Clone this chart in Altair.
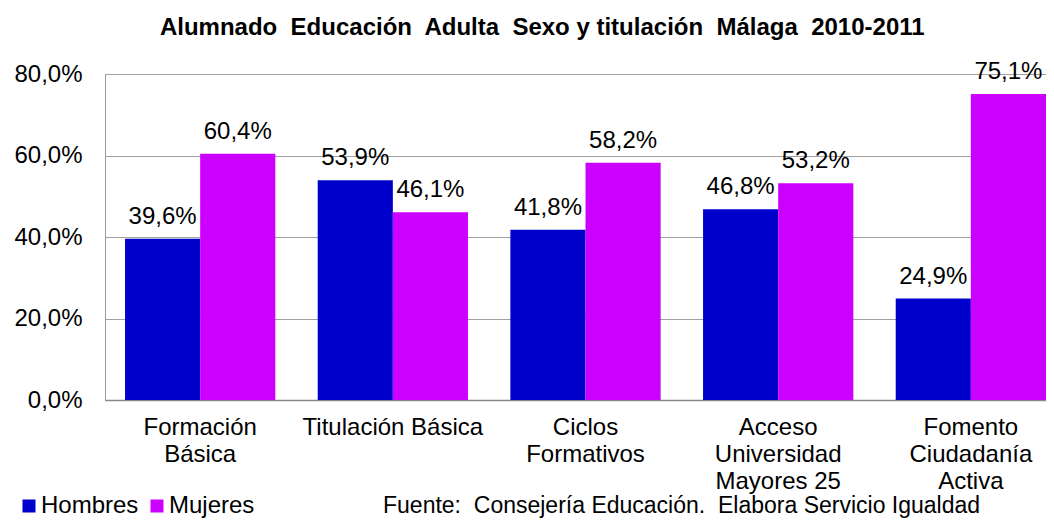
import altair as alt
import pandas as pd

categories = ["Formación|Básica", "Titulación Básica", "Ciclos|Formativos",
              "Acceso|Universidad|Mayores 25", "Fomento|Ciudadanía|Activa"]
hombres = [39.6, 53.9, 41.8, 46.8, 24.9]
mujeres = [60.4, 46.1, 58.2, 53.2, 75.1]
series = ["Hombres", "Mujeres"]
colors = ["#0000CC", "#CC00FF"]
title_text = "Alumnado\u00a0 Educación\u00a0 Adulta\u00a0 Sexo y titulación\u00a0 Málaga\u00a0 2010-2011"
source_text = "Fuente:\u00a0 Consejería Educación.\u00a0 Elabora Servicio Igualdad"

rows = []
for c, h, m in zip(categories, hombres, mujeres):
    rows.append({"cat": c, "sexo": "Hombres", "val": h})
    rows.append({"cat": c, "sexo": "Mujeres", "val": m})
df = pd.DataFrame(rows)
df["lbl"] = df["val"].map(lambda v: f"{v:.1f}".replace(".", ",") + "%")

FONT = "Liberation Sans"
FS = 24

x = alt.X("cat:N", sort=categories, title=None,
          scale=alt.Scale(paddingInner=0.22, paddingOuter=0.052, align=1),
          axis=alt.Axis(labelExpr="split(datum.label, '|')", labelAngle=0,
                        labelFontSize=FS, labelFont=FONT, labelColor="black",
                        labelLineHeight=27, labelPadding=15, ticks=False,
                        labelLimit=400,
                        domainColor="#888888", domainWidth=1.5, grid=False,
                        labelBaseline="top"))
y = alt.Y("val:Q", title=None,
          scale=alt.Scale(domain=[0, 80]),
          axis=alt.Axis(values=[0, 20, 40, 60, 80],
                        labelExpr="replace(format(datum.value, '.1f'), '.', ',') + '%'",
                        labelFontSize=FS, labelFont=FONT, labelColor="black",
                        labelPadding=23, ticks=False, domainColor="#999999",
                        gridColor="#A0A0A0", gridWidth=1))

base = alt.Chart(df)
bars = base.mark_bar().encode(
    x=x, y=y, xOffset=alt.XOffset("sexo:N", sort=series),
    color=alt.Color("sexo:N", sort=series,
                    scale=alt.Scale(domain=series, range=colors),
                    legend=alt.Legend(title=None, orient="none", legendX=-88,
                                      legendY=420, direction="horizontal",
                                      symbolType="square", symbolSize=169,
                                      symbolStrokeWidth=0, labelFontSize=FS,
                                      labelFont=FONT, labelColor="black",
                                      columnPadding=6, labelOffset=0)),
)
labels = base.mark_text(baseline="alphabetic", dy=-15, fontSize=FS, font=FONT,
                        color="black").encode(
    x=alt.X("cat:N", sort=categories), y="val:Q",
    xOffset=alt.XOffset("sexo:N", sort=series), text="lbl:N")

source = alt.Chart(pd.DataFrame({"t": [source_text]})).mark_text(
    align="left", baseline="bottom", fontSize=23, font=FONT, color="black").encode(
    x=alt.value(278), y=alt.value(444), text="t:N")

chart = alt.layer(bars, labels, source).properties(
    width=941, height=326,
    autosize=alt.AutoSizeParams(type="none"),
    padding={"left": 97, "top": 66, "right": 0, "bottom": 118},
    title=alt.TitleParams(
        title_text, font=FONT, fontSize=24, fontWeight="bold", color="black",
        anchor="start", offset=20, dx=146),
).configure_view(stroke=None).configure(background="white")

chart.save("out.html", embed_options={"renderer": "svg", "actions": False})
